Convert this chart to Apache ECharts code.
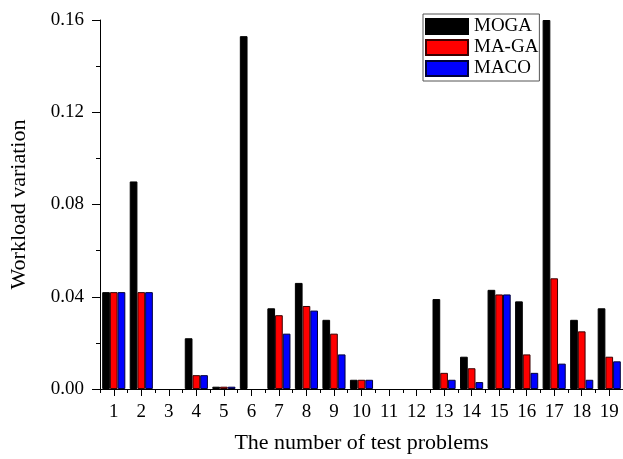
<!DOCTYPE html>
<html>
<head>
<meta charset="utf-8">
<script src="https://cdn.jsdelivr.net/npm/echarts@6/dist/echarts.min.js"></script>
<style>
  html, body { margin: 0; padding: 0; background: #fff; }
  #chart { width: 623px; height: 459px; }
</style>
</head>
<body>
<div id="chart"></div>
<script>
// Test problems 1..19
var problems = ['1','2','3','4','5','6','7','8','9','10','11','12','13','14','15','16','17','18','19'];

// Workload variation per algorithm
var moga  = [0.042, 0.090, 0, 0.022, 0.001, 0.153, 0.035, 0.046, 0.030, 0.004, 0, 0, 0.039, 0.014, 0.043, 0.038, 0.160, 0.030, 0.035];
var maga  = [0.042, 0.042, 0, 0.006, 0.001, 0,     0.032, 0.036, 0.024, 0.004, 0, 0, 0.007, 0.009, 0.041, 0.015, 0.048, 0.025, 0.014];
var maco  = [0.042, 0.042, 0, 0.006, 0.001, 0,     0.024, 0.034, 0.015, 0.004, 0, 0, 0.004, 0.003, 0.041, 0.007, 0.011, 0.004, 0.012];

var yTicks = [0, 0.04, 0.08, 0.12, 0.16];

var FONT = '"Liberation Serif", "Times New Roman", serif';

var chart = echarts.init(document.getElementById('chart'), null, { renderer: 'canvas' });

// zero-height bars get no outline so they stay invisible
function toItems(values) {
  return values.map(function (v) {
    return v === 0 ? { value: v, itemStyle: { borderWidth: 0 } } : v;
  });
}

function barSeries(name, data, color, border) {
  return {
    name: name,
    type: 'bar',
    data: toItems(data),
    xAxisIndex: 0,
    barGap: '0%',
    barCategoryGap: '16%',
    itemStyle: { color: color, borderColor: border, borderWidth: 1 },
    emphasis: { disabled: true }
  };
}

chart.setOption({
  animation: false,
  textStyle: { fontFamily: FONT },
  grid: { left: 99, top: 20, width: 528, bottom: 70 },
  legend: {
    orient: 'vertical',
    left: 423,
    top: 14,
    padding: [3, 1, 3, 2],
    itemWidth: 42,
    itemHeight: 15,
    itemGap: 2,
    icon: 'rect',
    borderColor: '#555',
    borderWidth: 1,
    textStyle: { fontFamily: FONT, fontSize: 19, color: '#000', padding: [0, 0, 0, 1] },
    data: ['MOGA', 'MA-GA', 'MACO']
  },
  xAxis: [
    {
      type: 'category',
      data: problems,
      name: 'The number of test problems',
      nameLocation: 'middle',
      nameGap: 43,
      nameTextStyle: { fontFamily: FONT, fontSize: 22, color: '#000' },
      axisLine: { lineStyle: { color: '#000', width: 1 } },
      axisTick: { show: true, inside: false, length: 4, lineStyle: { color: '#000' } },
      axisLabel: { show: false },
      splitLine: { show: false }
    },
    {
      type: 'category',
      data: problems,
      position: 'bottom',
      axisLine: { show: false },
      axisTick: { show: true, alignWithLabel: true, length: 7, lineStyle: { color: '#000' } },
      axisLabel: { fontFamily: FONT, fontSize: 19, color: '#000', margin: 14 },
      splitLine: { show: false }
    }
  ],
  yAxis: {
    type: 'value',
    min: yTicks[0],
    max: yTicks[yTicks.length - 1],
    interval: 0.04,
    name: 'Workload variation',
    nameLocation: 'middle',
    nameGap: 70,
    nameTextStyle: { fontFamily: FONT, fontSize: 22, color: '#000' },
    axisLine: { show: true, lineStyle: { color: '#000', width: 1 } },
    axisTick: { show: true, length: 8, lineStyle: { color: '#000' } },
    minorTick: { show: true, splitNumber: 2, length: 4, lineStyle: { color: '#000' } },
    axisLabel: {
      fontFamily: FONT, fontSize: 19, color: '#000', margin: 16,
      formatter: function (v) { return v.toFixed(2); }
    },
    splitLine: { show: false }
  },
  series: [
    barSeries('MOGA', moga, '#000000', '#000000'),
    barSeries('MA-GA', maga, '#ff0000', '#3a0000'),
    barSeries('MACO', maco, '#0000ff', '#00003a')
  ]
});
</script>
</body>
</html>
